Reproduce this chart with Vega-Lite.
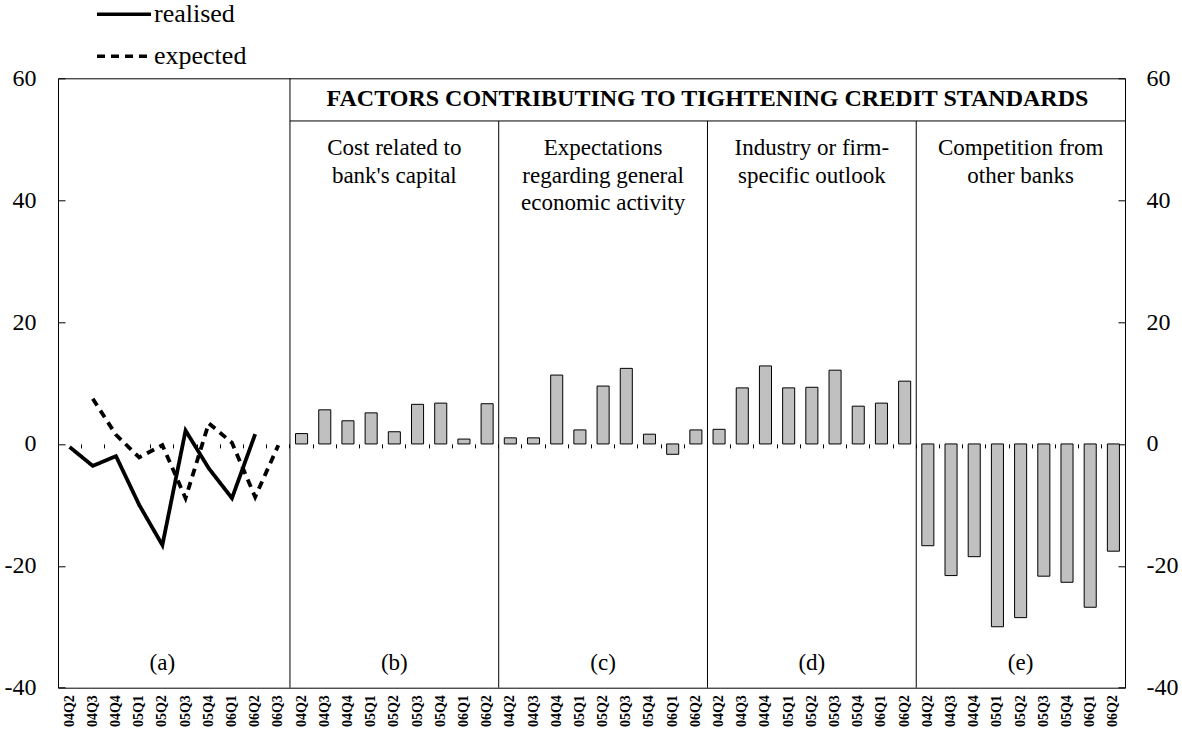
{
  "$schema": "https://vega.github.io/schema/vega-lite/v6.json",
  "width": 1067,
  "height": 609.4,
  "autosize": {"type": "none"},
  "padding": {"left": 58, "top": 78.3, "right": 57, "bottom": 41.3},
  "background": "white",
  "config": {
    "view": {"stroke": "black", "strokeWidth": 1},
    "font": "Liberation Serif",
    "axis": {"labelFont": "Liberation Serif", "labelColor": "black", "tickColor": "black", "domain": false, "grid": false, "title": null}
  },
  "datasets": {
    "bars": [
      {"key": "b04Q2", "value": 1.7}, {"key": "b04Q3", "value": 5.6}, {"key": "b04Q4", "value": 3.8},
      {"key": "b05Q1", "value": 5.1}, {"key": "b05Q2", "value": 2.0}, {"key": "b05Q3", "value": 6.5},
      {"key": "b05Q4", "value": 6.7}, {"key": "b06Q1", "value": 0.8}, {"key": "b06Q2", "value": 6.6},
      {"key": "c04Q2", "value": 1.0}, {"key": "c04Q3", "value": 1.0}, {"key": "c04Q4", "value": 11.3},
      {"key": "c05Q1", "value": 2.3}, {"key": "c05Q2", "value": 9.5}, {"key": "c05Q3", "value": 12.4},
      {"key": "c05Q4", "value": 1.6}, {"key": "c06Q1", "value": -1.7}, {"key": "c06Q2", "value": 2.3},
      {"key": "d04Q2", "value": 2.4}, {"key": "d04Q3", "value": 9.2}, {"key": "d04Q4", "value": 12.8},
      {"key": "d05Q1", "value": 9.2}, {"key": "d05Q2", "value": 9.3}, {"key": "d05Q3", "value": 12.1},
      {"key": "d05Q4", "value": 6.2}, {"key": "d06Q1", "value": 6.7}, {"key": "d06Q2", "value": 10.3},
      {"key": "e04Q2", "value": -16.7}, {"key": "e04Q3", "value": -21.6}, {"key": "e04Q4", "value": -18.5},
      {"key": "e05Q1", "value": -30.0}, {"key": "e05Q2", "value": -28.5}, {"key": "e05Q3", "value": -21.7},
      {"key": "e05Q4", "value": -22.7}, {"key": "e06Q1", "value": -26.8}, {"key": "e06Q2", "value": -17.6}
    ],
    "lines": [
      {"key": "a04Q2", "series": "realised", "value": -0.5},
      {"key": "a04Q3", "series": "realised", "value": -3.6},
      {"key": "a04Q4", "series": "realised", "value": -2.0},
      {"key": "a05Q1", "series": "realised", "value": -10.0},
      {"key": "a05Q2", "series": "realised", "value": -16.6},
      {"key": "a05Q3", "series": "realised", "value": 2.2},
      {"key": "a05Q4", "series": "realised", "value": -4.0},
      {"key": "a06Q1", "series": "realised", "value": -8.9},
      {"key": "a06Q2", "series": "realised", "value": 1.6},
      {"key": "a04Q3", "series": "expected", "value": 7.4},
      {"key": "a04Q4", "series": "expected", "value": 1.5},
      {"key": "a05Q1", "series": "expected", "value": -2.2},
      {"key": "a05Q2", "series": "expected", "value": -0.2},
      {"key": "a05Q3", "series": "expected", "value": -8.9},
      {"key": "a05Q4", "series": "expected", "value": 3.4},
      {"key": "a06Q1", "series": "expected", "value": 0.2},
      {"key": "a06Q2", "series": "expected", "value": -8.7},
      {"key": "a06Q3", "series": "expected", "value": -0.2}
    ],
    "dividers": [
      {"key": "b04Q2", "top": 60, "bottom": -40},
      {"key": "c04Q2", "top": 53, "bottom": -40},
      {"key": "d04Q2", "top": 53, "bottom": -40},
      {"key": "e04Q2", "top": 53, "bottom": -40}
    ],
    "headerline": [{"start": "b04Q2", "end": "e06Q2", "y": 53}],
    "header": [{"key": "d04Q2", "y": 55.4, "text": "FACTORS CONTRIBUTING TO TIGHTENING CREDIT STANDARDS"}],
    "titles": [
      {"key": "b05Q2", "y": 47.4, "text": "Cost related to\nbank's capital"},
      {"key": "c05Q2", "y": 47.4, "text": "Expectations\nregarding general\neconomic activity"},
      {"key": "d05Q2", "y": 47.4, "text": "Industry or firm-\nspecific outlook"},
      {"key": "e05Q2", "y": 47.4, "text": "Competition from\nother banks"}
    ],
    "panels": [
      {"key": "a05Q2", "y": -36, "text": "(a)"},
      {"key": "b05Q2", "y": -36, "text": "(b)"},
      {"key": "c05Q2", "y": -36, "text": "(c)"},
      {"key": "d05Q2", "y": -36, "text": "(d)"},
      {"key": "e05Q2", "y": -36, "text": "(e)"}
    ]
  },
  "layer": [
    {
      "data": {"name": "bars"},
      "mark": {"type": "bar", "fill": "#c0c0c0", "stroke": "black", "strokeWidth": 1, "width": {"band": 0.52}},
      "encoding": {
        "x": {"field": "key", "type": "ordinal", "scale": {"paddingInner": 0, "paddingOuter": 0},
          "axis": {"orient": "bottom", "offset": -243.8, "labels": false, "ticks": true, "tickSize": 4, "bandPosition": 0, "tickExtra": true}},
        "y": {"field": "value", "type": "quantitative", "scale": {"domain": [-40, 60], "nice": false, "zero": false},
          "axis": {"orient": "left", "values": [-40, -20, 0, 20, 40, 60], "labelExpr": "'' + datum.value", "tickSize": -7, "labelPadding": 29, "labelFontSize": 24}}
      }
    },
    {
      "data": {"name": "dividers"},
      "mark": {"type": "rule", "stroke": "black", "strokeWidth": 1},
      "encoding": {
        "x": {"field": "key", "type": "ordinal", "bandPosition": 0, "axis": null},
        "y": {"field": "top", "type": "quantitative", "axis": null},
        "y2": {"field": "bottom"}
      }
    },
    {
      "data": {"name": "headerline"},
      "mark": {"type": "rule", "stroke": "black", "strokeWidth": 1},
      "encoding": {
        "x": {"field": "start", "type": "ordinal", "bandPosition": 0, "axis": null},
        "x2": {"field": "end", "bandPosition": 1},
        "y": {"field": "y", "type": "quantitative", "axis": null}
      }
    },
    {
      "mark": {"type": "rule", "stroke": "black", "strokeWidth": 1},
      "encoding": {"y": {"datum": 0, "axis": null}}
    },
    {
      "data": {"name": "lines"},
      "mark": {"type": "line", "stroke": "black", "strokeWidth": 3.8, "strokeCap": "butt"},
      "encoding": {
        "x": {"field": "key", "type": "ordinal",
          "axis": {"orient": "bottom", "ticks": false, "labelExpr": "substring(datum.label, 1)", "labelAngle": 270, "labelFontSize": 14, "labelFontWeight": "bold", "labelPadding": 7}},
        "y": {"field": "value", "type": "quantitative",
          "axis": {"orient": "right", "values": [-40, -20, 0, 20, 40, 60], "labelExpr": "'' + datum.value", "tickSize": -7, "labelPadding": 28, "labelFontSize": 24}},
        "strokeDash": {"field": "series", "type": "nominal",
          "scale": {"domain": ["realised", "expected"], "range": [[1, 0], [8, 6]]},
          "legend": {"title": null, "orient": "none", "legendX": 37, "legendY": -93, "symbolType": "stroke", "symbolSize": 2916, "symbolStrokeWidth": 3.5, "symbolStrokeColor": "black", "labelFontSize": 26, "labelFont": "Liberation Serif", "labelColor": "black", "labelOffset": 1, "rowPadding": -17, "padding": 0}}
      }
    },
    {
      "data": {"name": "header"},
      "mark": {"type": "text", "fontSize": 24, "fontWeight": "bold", "align": "center", "baseline": "alphabetic", "color": "black"},
      "encoding": {
        "x": {"field": "key", "type": "ordinal", "bandPosition": 0, "axis": null},
        "y": {"field": "y", "type": "quantitative", "axis": null},
        "text": {"field": "text"}
      }
    },
    {
      "data": {"name": "titles"},
      "mark": {"type": "text", "fontSize": 23, "align": "center", "baseline": "alphabetic", "lineBreak": "\n", "lineHeight": 27.5, "color": "black"},
      "encoding": {
        "x": {"field": "key", "type": "ordinal", "axis": null},
        "y": {"field": "y", "type": "quantitative", "axis": null},
        "text": {"field": "text"}
      }
    },
    {
      "data": {"name": "panels"},
      "mark": {"type": "text", "fontSize": 23, "align": "center", "baseline": "middle", "color": "black"},
      "encoding": {
        "x": {"field": "key", "type": "ordinal", "axis": null},
        "y": {"field": "y", "type": "quantitative", "axis": null},
        "text": {"field": "text"}
      }
    }
  ],
  "resolve": {"axis": {"x": "independent", "y": "independent"}}
}
